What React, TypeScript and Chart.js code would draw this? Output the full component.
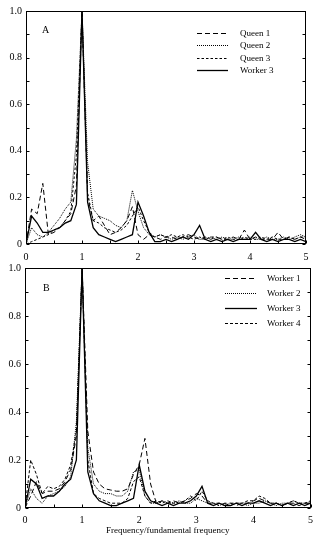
import React, { useEffect, useRef } from "react";
import { Chart, registerables } from "chart.js";

Chart.register(...registerables);

const FONT = "'Liberation Serif', 'Times New Roman', serif";

const freq = [
  0, 0.1, 0.2, 0.3, 0.4, 0.5, 0.6, 0.7, 0.8, 0.9,
  1.0, 1.1, 1.2, 1.3, 1.4, 1.5, 1.6, 1.7, 1.8, 1.9,
  2.0, 2.1, 2.2, 2.3, 2.4, 2.5, 2.6, 2.7, 2.8, 2.9,
  3.0, 3.1, 3.2, 3.3, 3.4, 3.5, 3.6, 3.7, 3.8, 3.9,
  4.0, 4.1, 4.2, 4.3, 4.4, 4.5, 4.6, 4.7, 4.8, 4.9, 5.0,
];

// Panel A
const queen1 = [
  0.0, 0.15, 0.13, 0.26, 0.04, 0.05, 0.07, 0.1, 0.13, 0.25,
  1.0, 0.2, 0.1, 0.12, 0.08, 0.04, 0.05, 0.07, 0.1, 0.16,
  0.04, 0.02, 0.04, 0.03, 0.02, 0.03, 0.03, 0.02, 0.03, 0.04,
  0.03, 0.02, 0.03, 0.02, 0.03, 0.02, 0.02, 0.03, 0.02, 0.06,
  0.02, 0.03, 0.02, 0.02, 0.02, 0.05, 0.02, 0.03, 0.02, 0.03, 0.02,
];
const queen2 = [
  0.0, 0.07, 0.04, 0.03, 0.05, 0.08, 0.11, 0.15, 0.18, 0.45,
  1.0, 0.35, 0.15, 0.12, 0.11, 0.1, 0.08, 0.07, 0.1, 0.23,
  0.14, 0.07, 0.04, 0.03, 0.04, 0.03, 0.02, 0.03, 0.02, 0.03,
  0.04, 0.02, 0.02, 0.03, 0.02, 0.03, 0.02, 0.02, 0.03, 0.02,
  0.03, 0.02, 0.02, 0.03, 0.02, 0.02, 0.03, 0.02, 0.03, 0.04, 0.03,
];
const queen3 = [
  0.0, 0.01, 0.02, 0.03, 0.04, 0.06, 0.07, 0.1, 0.14, 0.38,
  1.0, 0.22, 0.1, 0.09, 0.07, 0.06, 0.05, 0.06, 0.08, 0.12,
  0.16, 0.1, 0.05, 0.03, 0.04, 0.03, 0.04, 0.03, 0.04, 0.03,
  0.02, 0.03, 0.02, 0.03, 0.03, 0.02, 0.03, 0.02, 0.02, 0.03,
  0.02, 0.02, 0.03, 0.02, 0.03, 0.02, 0.02, 0.03, 0.02, 0.03, 0.03,
];
const workerA3 = [
  0.0, 0.12, 0.09, 0.05, 0.05, 0.06, 0.07, 0.09, 0.1, 0.17,
  1.0, 0.18, 0.07, 0.04, 0.03, 0.02, 0.01, 0.02, 0.03, 0.04,
  0.18, 0.12, 0.05, 0.01, 0.01, 0.02, 0.01, 0.02, 0.03, 0.02,
  0.04, 0.08, 0.02, 0.01, 0.02, 0.01, 0.02, 0.01, 0.02, 0.02,
  0.02, 0.05, 0.02, 0.01, 0.02, 0.01, 0.02, 0.02, 0.01, 0.02, 0.01,
];

// Panel B
const worker1 = [
  0.0, 0.05, 0.11, 0.06, 0.07, 0.07, 0.08, 0.11, 0.16, 0.3,
  1.0, 0.32, 0.15, 0.1, 0.08, 0.075, 0.07, 0.07, 0.08, 0.14,
  0.18, 0.29, 0.1, 0.02, 0.03, 0.02, 0.03, 0.02, 0.03, 0.04,
  0.06, 0.05, 0.02, 0.02, 0.01, 0.02, 0.02, 0.01, 0.02, 0.02,
  0.03, 0.04, 0.03, 0.02, 0.02, 0.01, 0.02, 0.02, 0.01, 0.02, 0.02,
];
const worker2 = [
  0.0, 0.08, 0.04, 0.02, 0.05, 0.06, 0.07, 0.09, 0.13, 0.36,
  1.0, 0.25, 0.1, 0.07, 0.06, 0.06, 0.05, 0.05, 0.07, 0.15,
  0.16, 0.05, 0.02, 0.02, 0.03, 0.02, 0.02, 0.03, 0.02, 0.02,
  0.04, 0.03, 0.02, 0.02, 0.01, 0.02, 0.01, 0.02, 0.02, 0.01,
  0.02, 0.02, 0.03, 0.02, 0.01, 0.02, 0.02, 0.03, 0.02, 0.02, 0.02,
];
const workerB3 = [
  0.0, 0.12, 0.1, 0.04, 0.05, 0.05, 0.07, 0.1, 0.12, 0.2,
  1.0, 0.15, 0.06, 0.03, 0.02, 0.01, 0.01, 0.02, 0.03, 0.04,
  0.18, 0.07, 0.03, 0.02, 0.01, 0.02, 0.01, 0.02, 0.02, 0.03,
  0.05, 0.09, 0.02, 0.01, 0.02, 0.01, 0.01, 0.02, 0.01, 0.02,
  0.02, 0.03, 0.02, 0.01, 0.02, 0.01, 0.02, 0.01, 0.02, 0.01, 0.02,
];
const worker4 = [
  0.0, 0.2, 0.14, 0.06, 0.09, 0.08, 0.09, 0.12, 0.18, 0.32,
  1.0, 0.2, 0.06, 0.04, 0.03, 0.02, 0.02, 0.02, 0.04, 0.11,
  0.13, 0.05, 0.02, 0.03, 0.02, 0.03, 0.02, 0.02, 0.03, 0.05,
  0.03, 0.07, 0.03, 0.02, 0.02, 0.01, 0.02, 0.02, 0.02, 0.03,
  0.03, 0.05, 0.04, 0.02, 0.02, 0.01, 0.02, 0.03, 0.02, 0.02, 0.03,
];

const yTickLabels = ["0", "0.2", "0.4", "0.6", "0.8", "1.0"];
const xTickLabels = ["0", "1", "2", "3", "4", "5"];
const xTitle = "Frequency/fundamental frequency";

const decoPlugin = {
  id: "deco",
  afterDraw(chart: any, _args: any, o: any) {
    const { ctx, chartArea: a, scales } = chart;
    const xs = scales.x;
    const ys = scales.y;
    ctx.save();
    ctx.strokeStyle = "#000";
    ctx.lineWidth = 1;
    ctx.setLineDash([]);
    const L = Math.round(a.left) + 0.5;
    const R = Math.round(a.right) - 0.5;
    const T = Math.round(a.top) + 0.5;
    const B = Math.round(a.bottom) - 0.5;
    ctx.strokeRect(L, T, R - L, B - T);
    ctx.beginPath();
    for (let i = 0; i <= 10; i++) {
      const py = Math.round(ys.getPixelForValue(i / 10)) + 0.5;
      ctx.moveTo(L, py);
      ctx.lineTo(L + 3, py);
      ctx.moveTo(R, py);
      ctx.lineTo(R - 3, py);
    }
    for (let i = 0; i <= 10; i++) {
      const px = Math.round(xs.getPixelForValue(i / 2)) + 0.5;
      ctx.moveTo(px, B);
      ctx.lineTo(px, B - 3);
    }
    ctx.stroke();

    ctx.fillStyle = "#000";
    ctx.font = `10px ${FONT}`;
    ctx.textBaseline = "middle";
    ctx.textAlign = "left";
    ctx.fillText(o.letter, a.left + o.letterDx, a.top + o.letterDy);

    ctx.font = `9px ${FONT}`;
    chart.data.datasets.forEach((ds: any, i: number) => {
      const ly = Math.round(a.top + o.legTop + i * o.legGap) + 0.5;
      ctx.beginPath();
      ctx.setLineDash(ds.borderDash || []);
      ctx.lineWidth = ds.borderWidth;
      ctx.moveTo(a.left + o.legX0, ly);
      ctx.lineTo(a.left + o.legX1, ly);
      ctx.stroke();
      ctx.setLineDash([]);
      ctx.fillText(ds.label, a.left + o.legText, ly);
    });
    ctx.restore();
  },
};

function makeConfig(
  series: { label: string; data: number[]; dash: number[]; width: number }[],
  opts: {
    padTop: number;
    padRight: number;
    yWidth: number;
    xHeight: number;
    xPad: number;
    title: boolean;
    deco: any;
  }
): any {
  return {
    type: "line",
    data: {
      datasets: series.map((s) => ({
        label: s.label,
        data: freq.map((f, i) => ({ x: f, y: s.data[i] })),
        borderColor: "#000",
        borderWidth: s.width,
        borderDash: s.dash,
        pointRadius: 0,
        tension: 0,
        fill: false,
      })),
    },
    options: {
      animation: false,
      responsive: false,
      devicePixelRatio: 1,
      layout: { padding: { top: opts.padTop, right: opts.padRight, left: 0, bottom: 0 } },
      plugins: {
        legend: { display: false },
        tooltip: { enabled: false },
        deco: opts.deco,
      },
      scales: {
        x: {
          type: "linear",
          min: 0,
          max: 5,
          grid: { display: false, drawTicks: false },
          border: { display: false },
          afterFit: (s: any) => {
            s.height = opts.xHeight;
          },
          ticks: {
            stepSize: 0.5,
            autoSkip: false,
            maxRotation: 0,
            padding: opts.xPad,
            color: "#000",
            font: { family: FONT, size: 10 },
            callback: (v: number) => {
              const idx = Math.round(v * 2);
              return idx % 2 === 0 ? xTickLabels[idx / 2] : "";
            },
          },
          title: {
            display: opts.title,
            text: xTitle,
            color: "#000",
            font: { family: FONT, size: 9 },
            padding: { top: 0, bottom: 0 },
          },
        },
        y: {
          type: "linear",
          min: 0,
          max: 1,
          grid: { display: false, drawTicks: false },
          border: { display: false },
          afterFit: (s: any) => {
            s.width = opts.yWidth;
          },
          ticks: {
            stepSize: 0.1,
            autoSkip: false,
            padding: 4,
            color: "#000",
            font: { family: FONT, size: 10 },
            callback: (v: number) => {
              const idx = Math.round(v * 10);
              return idx % 2 === 0 ? yTickLabels[idx / 2] : "";
            },
          },
        },
      },
    },
    plugins: [decoPlugin],
  };
}

function Panel(props: { top: number; height: number; config: any }) {
  const ref = useRef<HTMLCanvasElement | null>(null);
  useEffect(() => {
    if (!ref.current) return;
    const chart = new Chart(ref.current, props.config);
    return () => chart.destroy();
  }, []);
  return (
    <canvas
      ref={ref}
      width={319}
      height={props.height}
      style={{ position: "absolute", left: 0, top: props.top, width: 319, height: props.height }}
    />
  );
}

const configA = makeConfig(
  [
    { label: "Queen 1", data: queen1, dash: [5, 3], width: 1 },
    { label: "Queen 2", data: queen2, dash: [1, 1], width: 1 },
    { label: "Queen 3", data: queen3, dash: [2.5, 2], width: 1 },
    { label: "Worker 3", data: workerA3, dash: [], width: 1.3 },
  ],
  {
    padTop: 11,
    padRight: 13,
    yWidth: 26,
    xHeight: 18,
    xPad: 7,
    title: false,
    deco: { letter: "A", letterDx: 16, letterDy: 19, legTop: 22, legGap: 12.3, legX0: 171, legX1: 202, legText: 214 },
  }
);

const configB = makeConfig(
  [
    { label: "Worker 1", data: worker1, dash: [5, 3], width: 1 },
    { label: "Worker 2", data: worker2, dash: [1, 1], width: 1 },
    { label: "Worker 3", data: workerB3, dash: [], width: 1.3 },
    { label: "Worker 4", data: worker4, dash: [3, 2], width: 1 },
  ],
  {
    padTop: 10,
    padRight: 4,
    yWidth: 25,
    xHeight: 28,
    xPad: 6,
    title: true,
    deco: { letter: "B", letterDx: 18, letterDy: 20, legTop: 10, legGap: 15, legX0: 200, legX1: 232, legText: 242 },
  }
);

export default function App() {
  return (
    <div style={{ position: "fixed", left: 0, top: 0, width: 319, height: 536, background: "#fff" }}>
      <Panel top={0} height={262} config={configA} />
      <Panel top={258} height={278} config={configB} />
    </div>
  );
}
